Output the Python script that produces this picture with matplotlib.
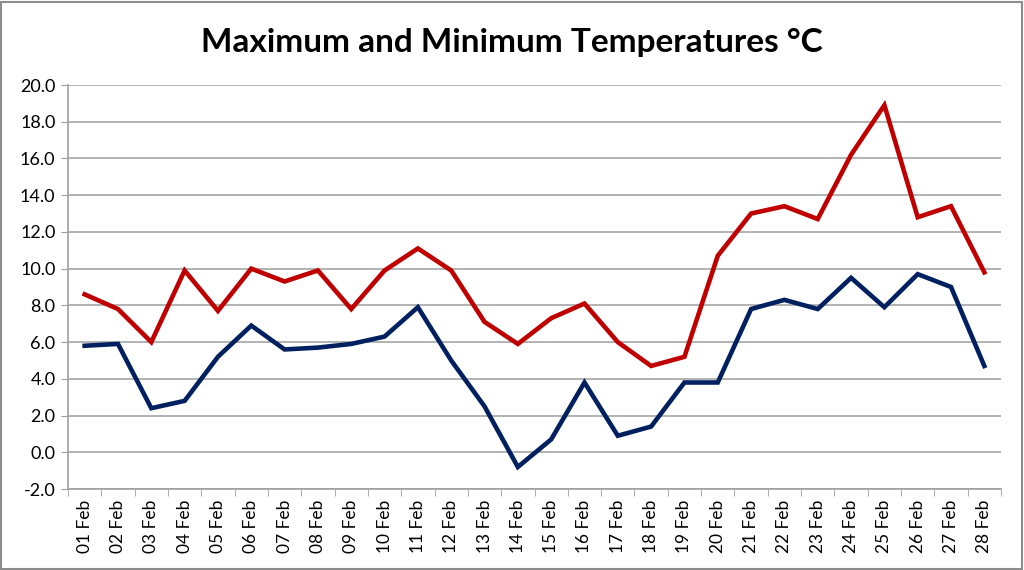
import numpy as np
import matplotlib.pyplot as plt
from matplotlib.patches import Rectangle
from matplotlib.ticker import FormatStrFormatter, FixedLocator

plt.rcParams['font.family'] = ['Lato', 'DejaVu Sans']

days = [f"{d:02d} Feb" for d in range(1, 29)]
max_temp = [8.6, 7.8, 6.0, 9.9, 7.7, 10.0, 9.3, 9.9, 7.8, 9.9, 11.1, 9.9, 7.1, 5.9,
            7.3, 8.1, 6.0, 4.7, 5.2, 10.7, 13.0, 13.4, 12.7, 16.2, 18.9, 12.8, 13.4, 9.8]
min_temp = [5.8, 5.9, 2.4, 2.8, 5.2, 6.9, 5.6, 5.7, 5.9, 6.3, 7.9, 5.0, 2.5, -0.8,
            0.7, 3.8, 0.9, 1.4, 3.8, 3.8, 7.8, 8.3, 7.8, 9.5, 7.9, 9.7, 9.0, 4.7]

fig = plt.figure(figsize=(10.24, 5.7), dpi=100)
ax = fig.add_axes([68/1024, 1 - 489/570, (1001 - 68)/1024, (489 - 85)/570])

x = np.arange(len(days))
ax.plot(x, max_temp, color='#C00000', lw=3.3, solid_joinstyle='miter', zorder=3)
ax.plot(x, min_temp, color='#002060', lw=3.3, solid_joinstyle='miter', zorder=3)

ax.set_xlim(-0.5, len(days) - 0.5)
ax.set_ylim(-2, 20)
ax.set_yticks(np.arange(-2, 21, 2))
ax.yaxis.set_major_formatter(FormatStrFormatter('%.1f'))
ax.set_xticks(x)
ax.set_xticklabels(days, rotation=90, fontsize=12.5)
ax.xaxis.set_minor_locator(FixedLocator(np.arange(-0.5, len(days), 1)))
ax.tick_params(axis='x', which='major', length=0, pad=8)
ax.tick_params(axis='x', which='minor', length=5, color='#A0A0A0')
ax.tick_params(axis='y', length=5, color='#A0A0A0', labelsize=13, pad=4)

ax.grid(axis='y', color='#A6A6A6', lw=1.2)
ax.set_axisbelow(True)
for s in ['top', 'right']:
    ax.spines[s].set_visible(False)
for s in ['left', 'bottom']:
    ax.spines[s].set_color('#A0A0A0')
    ax.spines[s].set_linewidth(1.2)

fig.text(0.5, 1 - 42/570, 'Maximum and Minimum Temperatures °C', ha='center', va='center',
         fontsize=24, fontweight='bold')

fig.patches.append(Rectangle((0.001, 0.002), 0.997, 0.995, transform=fig.transFigure,
                             fill=False, edgecolor='#8C8C8C', lw=1.5))

fig.savefig('out.png', dpi=100)
